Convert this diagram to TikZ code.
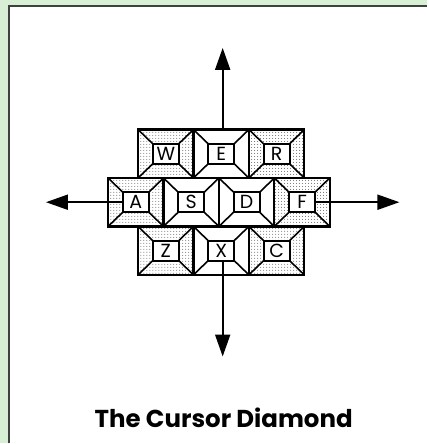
\documentclass[tikz,border=0pt]{standalone}
\usepackage{fontspec}
\setmainfont{Poppins}
\usetikzlibrary{patterns,arrows.meta}
\definecolor{bggreen}{HTML}{D8EFD6}
\tikzset{
  keybox/.style={draw, line width=2.2pt, minimum width=55.5pt, minimum height=48.5pt, inner sep=0pt, outer sep=0pt},
  letterbox/.style={draw, line width=2pt, minimum width=26pt, minimum height=20pt, inner sep=0pt, outer sep=0pt, font=\fontsize{19}{19}\selectfont},
  bevel/.style={line width=1.6pt},
  stip/.style={pattern=dots, pattern color=black!60},
  axis/.style={line width=2pt, -{Triangle[length=22pt,width=15pt]}},
  titletext/.style={font=\bfseries\fontsize{24.5}{24.5}\selectfont}
}
\begin{document}
\begin{tikzpicture}[x=1pt,y=-1pt]
\fill[bggreen] (0,0) rectangle (428,444);
\fill[white] (9,6) rectangle (428,444);
\draw[line width=1.3pt, black!75] (9,444) -- (9,6) -- (428,6);
\useasboundingbox (0,0) rectangle (428,444);

\foreach \name/\x/\y/\s in {W/166/154/1, E/221.5/154/0, R/277/154/1,
                            A/136/202.5/1, S/191.5/202.5/0, D/247/202.5/0, F/302.5/202.5/1,
                            Z/166/251/1, X/221.5/251/0, C/277/251/1}{
  \ifnum\s=1
    \fill[stip, even odd rule] (\x-27.75,\y-24.25) rectangle (\x+27.75,\y+24.25)
                               (\x-13,\y-10) rectangle (\x+13,\y+10);
  \fi
  \node[keybox] (k\name) at (\x,\y) {};
  \node[letterbox, fill=white] (i\name) at (\x,\y) {\name};
  \draw[bevel] (k\name.north west) -- (i\name.north west)
               (k\name.north east) -- (i\name.north east)
               (k\name.south west) -- (i\name.south west)
               (k\name.south east) -- (i\name.south east);
}

\coordinate (tipL) at (46,202.5);
\coordinate (tipR) at (400,202.5);
\coordinate (tipU) at (223,48);
\coordinate (tipD) at (223,357);
\draw[axis] (iA.west) -- (tipL);
\draw[axis] (iF.east) -- (tipR);
\draw[axis] (kE.north -| tipU) -- (tipU);
\draw[axis] (iX.south -| tipU) -- (tipD);

\node[titletext] (title) at (224,418) {The Cursor Diamond};
\end{tikzpicture}
\end{document}
